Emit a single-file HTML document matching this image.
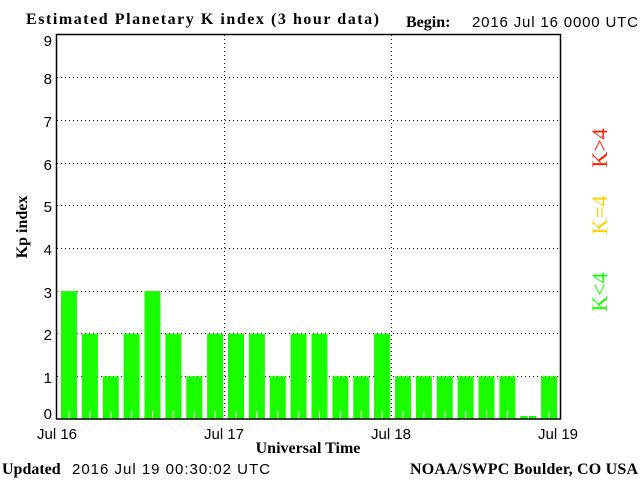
<!DOCTYPE html>
<html><head><style>
html,body{margin:0;padding:0;background:#fff;width:640px;height:480px;overflow:hidden}
svg{display:block}
.s{font-family:"Liberation Sans",sans-serif;font-size:15px}
.b{font-family:"Liberation Serif",serif;font-weight:bold;font-size:16px}
</style></head><body>
<svg width="640" height="480" xmlns="http://www.w3.org/2000/svg">
<text x="26" y="24" class="b" textLength="353">Estimated Planetary K index (3 hour data)</text>
<text x="406" y="27" class="b">Begin:</text>
<text x="472" y="27" class="s" textLength="166">2016 Jul 16 0000 UTC</text>
<g stroke="#000" stroke-dasharray="1,3" stroke-width="1">
<line x1="57" y1="77.5" x2="560" y2="77.5"/>
<line x1="57" y1="120.5" x2="560" y2="120.5"/>
<line x1="57" y1="163.5" x2="560" y2="163.5"/>
<line x1="57" y1="205.5" x2="560" y2="205.5"/>
<line x1="57" y1="248.5" x2="560" y2="248.5"/>
<line x1="57" y1="291.5" x2="560" y2="291.5"/>
<line x1="57" y1="333.5" x2="560" y2="333.5"/>
<line x1="57" y1="376.5" x2="560" y2="376.5"/>
<line x1="224.5" y1="35" x2="224.5" y2="419"/>
<line x1="391.5" y1="35" x2="391.5" y2="419"/>
</g>
<g fill="#1aff00">
<rect x="61" y="291" width="16" height="128"/>
<rect x="81.9" y="333.7" width="16" height="85.3"/>
<rect x="102.8" y="376.3" width="16" height="42.7"/>
<rect x="123.6" y="333.7" width="16" height="85.3"/>
<rect x="144.5" y="291" width="16" height="128"/>
<rect x="165.4" y="333.7" width="16" height="85.3"/>
<rect x="186.3" y="376.3" width="16" height="42.7"/>
<rect x="207.1" y="333.7" width="16" height="85.3"/>
<rect x="228" y="333.7" width="16" height="85.3"/>
<rect x="248.9" y="333.7" width="16" height="85.3"/>
<rect x="269.8" y="376.3" width="16" height="42.7"/>
<rect x="290.6" y="333.7" width="16" height="85.3"/>
<rect x="311.5" y="333.7" width="16" height="85.3"/>
<rect x="332.4" y="376.3" width="16" height="42.7"/>
<rect x="353.3" y="376.3" width="16" height="42.7"/>
<rect x="374.1" y="333.7" width="16" height="85.3"/>
<rect x="395" y="376.3" width="16" height="42.7"/>
<rect x="415.9" y="376.3" width="16" height="42.7"/>
<rect x="436.8" y="376.3" width="16" height="42.7"/>
<rect x="457.6" y="376.3" width="16" height="42.7"/>
<rect x="478.5" y="376.3" width="16" height="42.7"/>
<rect x="499.4" y="376.3" width="16" height="42.7"/>
<rect x="520.3" y="416" width="16" height="3"/>
<rect x="541.1" y="376.3" width="16" height="42.7"/>
</g>
<g fill="#fff">
<rect x="68.5" y="411" width="1" height="8"/><rect x="89.4" y="411" width="1" height="8"/>
<rect x="110.3" y="411" width="1" height="8"/><rect x="131.1" y="411" width="1" height="8"/>
<rect x="152" y="411" width="1" height="8"/><rect x="172.9" y="411" width="1" height="8"/>
<rect x="193.8" y="411" width="1" height="8"/><rect x="214.6" y="411" width="1" height="8"/>
<rect x="235.5" y="411" width="1" height="8"/><rect x="256.4" y="411" width="1" height="8"/>
<rect x="277.3" y="411" width="1" height="8"/><rect x="298.1" y="411" width="1" height="8"/>
<rect x="319" y="411" width="1" height="8"/><rect x="339.9" y="411" width="1" height="8"/>
<rect x="360.8" y="411" width="1" height="8"/><rect x="381.6" y="411" width="1" height="8"/>
<rect x="402.5" y="411" width="1" height="8"/><rect x="423.4" y="411" width="1" height="8"/>
<rect x="444.3" y="411" width="1" height="8"/><rect x="465.1" y="411" width="1" height="8"/>
<rect x="486" y="411" width="1" height="8"/><rect x="506.9" y="411" width="1" height="8"/>
<rect x="527.8" y="416" width="1" height="3"/><rect x="548.6" y="411" width="1" height="8"/>
</g>
<rect x="56.5" y="34.5" width="504" height="384.5" fill="none" stroke="#000" stroke-width="1.5"/>
<g class="s" text-anchor="end" font-size="16">
<text x="52" y="46">9</text><text x="52" y="84">8</text><text x="52" y="127">7</text>
<text x="52" y="170">6</text><text x="52" y="212">5</text><text x="52" y="255">4</text>
<text x="52" y="298">3</text><text x="52" y="340">2</text><text x="52" y="383">1</text>
<text x="52" y="419">0</text>
</g>
<g class="s" text-anchor="middle">
<text x="57" y="439">Jul 16</text><text x="224" y="439">Jul 17</text>
<text x="391" y="439">Jul 18</text><text x="558" y="439">Jul 19</text>
</g>
<text x="308" y="453" class="b" text-anchor="middle">Universal Time</text>
<text transform="translate(27,227) rotate(-90)" class="b" text-anchor="middle">Kp index</text>
<text transform="translate(607,148) rotate(-90)" font-family="Liberation Serif,serif" fill="#ff2000" font-size="22" text-anchor="middle">K&gt;4</text>
<text transform="translate(607,215) rotate(-90)" font-family="Liberation Serif,serif" fill="#ffd000" font-size="22" text-anchor="middle">K=4</text>
<text transform="translate(607,292) rotate(-90)" font-family="Liberation Serif,serif" fill="#1aff00" font-size="22" text-anchor="middle">K&lt;4</text>
<text x="2" y="474" class="b">Updated</text>
<text x="72" y="474" class="s" textLength="198">2016 Jul 19 00:30:02 UTC</text>
<text x="410" y="474" class="b" textLength="228">NOAA/SWPC Boulder, CO USA</text>
</svg>
</body></html>
